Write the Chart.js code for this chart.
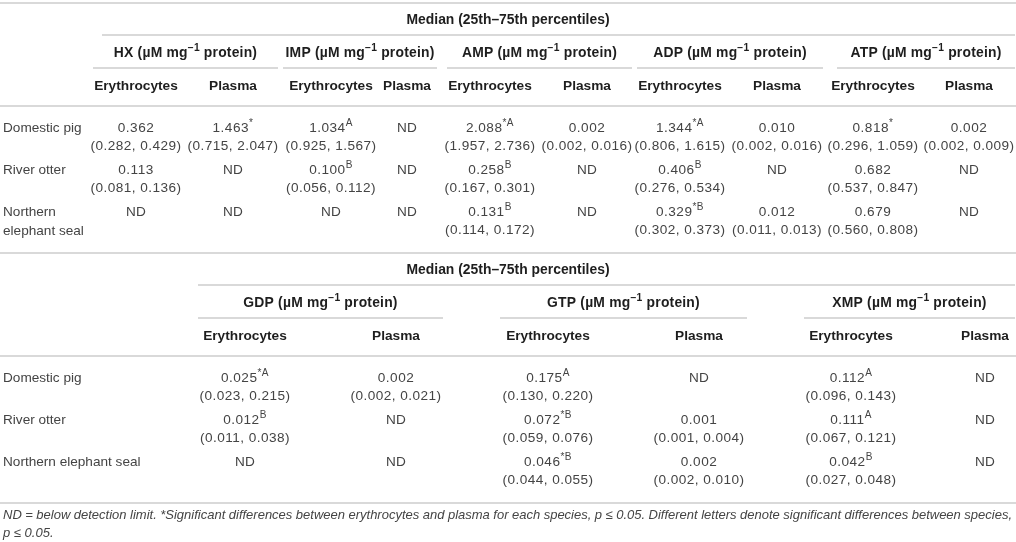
<!DOCTYPE html>
<html>
<head>
<meta charset="utf-8">
<script src="https://cdn.jsdelivr.net/npm/chart.js@4.4.1/dist/chart.umd.min.js"></script>
<style>
  html, body { margin: 0; padding: 0; background: #fff; }
  #wrap { width: 1016px; height: 542px; position: relative; }
</style>
</head>
<body>
<div id="wrap"><canvas id="table-chart"></canvas></div>
<script>
// table data: [median, 25th, 75th, marks] per species, null = ND
const species = ["Domestic pig", "River otter", "Northern elephant seal"];
const fractions = ["Erythrocytes", "Plasma"];
const spanTitle = "Median (25th\u201375th percentiles)";
const unitText = " (\u00b5M mg";
const footnote1 = "ND = below detection limit. *Significant differences between erythrocytes and plasma for each species, p \u2264 0.05. Different letters denote significant differences between species,";
const footnote2 = "p \u2264 0.05.";

const topCompounds = ["HX", "IMP", "AMP", "ADP", "ATP"];
const bottomCompounds = ["GDP", "GTP", "XMP"];

const hxEry    = [[0.362, 0.282, 0.429, ""], [0.113, 0.081, 0.136, ""], null];
const hxPla    = [[1.463, 0.715, 2.047, "*"], null, null];
const impEry   = [[1.034, 0.925, 1.567, "A"], [0.100, 0.056, 0.112, "B"], null];
const impPla   = [null, null, null];
const ampEry   = [[2.088, 1.957, 2.736, "*A"], [0.258, 0.167, 0.301, "B"], [0.131, 0.114, 0.172, "B"]];
const ampPla   = [[0.002, 0.002, 0.016, ""], null, null];
const adpEry   = [[1.344, 0.806, 1.615, "*A"], [0.406, 0.276, 0.534, "B"], [0.329, 0.302, 0.373, "*B"]];
const adpPla   = [[0.010, 0.002, 0.016, ""], null, [0.012, 0.011, 0.013, ""]];
const atpEry   = [[0.818, 0.296, 1.059, "*"], [0.682, 0.537, 0.847, ""], [0.679, 0.560, 0.808, ""]];
const atpPla   = [[0.002, 0.002, 0.009, ""], null, null];
const gdpEry   = [[0.025, 0.023, 0.215, "*A"], [0.012, 0.011, 0.038, "B"], null];
const gdpPla   = [[0.002, 0.002, 0.021, ""], null, null];
const gtpEry   = [[0.175, 0.130, 0.220, "A"], [0.072, 0.059, 0.076, "*B"], [0.046, 0.044, 0.055, "*B"]];
const gtpPla   = [null, [0.001, 0.001, 0.004, ""], [0.002, 0.002, 0.010, ""]];
const xmpEry   = [[0.112, 0.096, 0.143, "A"], [0.111, 0.067, 0.121, "A"], [0.042, 0.027, 0.048, "B"]];
const xmpPla   = [null, null, null];

const topCells = [[hxEry, hxPla], [impEry, impPla], [ampEry, ampPla], [adpEry, adpPla], [atpEry, atpPla]];
const bottomCells = [[gdpEry, gdpPla], [gtpEry, gtpPla], [xmpEry, xmpPla]];

// layout (axis units)
const layout = {
  top: {
    y0: 0, wrapLabels: true, topRule: true,
    groups: [[93, 278], [283, 437], [447, 632], [637, 823], [837, 1015]],
    cols: [[136, 233], [331, 407], [490, 587], [680, 777], [873, 969]]
  },
  bottom: {
    y0: 250, wrapLabels: false, topRule: false,
    groups: [[198, 443], [500, 747], [804, 1015]],
    cols: [[245, 396], [548, 699], [851, 985]]
  },
  spanStart: { top: 102, bottom: 198 }
};

const FONT = '"Liberation Sans", Arial, sans-serif';
const TXT = "#444444", HEAD = "#1e1e1e", RULE = "#cdcdcd";

function drawParts(ctx, px, py, parts, size, weight, color, align, spacing) {
  // parts: [{t, sup}]
  const fontOf = p => weight + " " + (p.sup ? size * 0.74 : size) + "px " + FONT;
  ctx.letterSpacing = (spacing || 0) + "px";
  let w = 0;
  parts.forEach(p => { ctx.font = fontOf(p); w += ctx.measureText(p.t).width; });
  let x = align === "left" ? px : px - w / 2;
  ctx.fillStyle = color;
  ctx.textBaseline = "middle";
  ctx.textAlign = "left";
  parts.forEach(p => {
    ctx.font = fontOf(p);
    ctx.fillText(p.t, x, p.sup ? py - size * 0.36 : py);
    x += ctx.measureText(p.t).width;
  });
  ctx.letterSpacing = "0px";
}

const tablePlugin = {
  id: "tablePlugin",
  afterDraw(chart) {
    const ctx = chart.ctx, sx = chart.scales.x, sy = chart.scales.y;
    const X = v => sx.getPixelForValue(v), Y = v => sy.getPixelForValue(v);
    ctx.save();

    const hline = (x1, x2, y) => {
      ctx.strokeStyle = RULE; ctx.lineWidth = 1.6;
      ctx.beginPath(); ctx.moveTo(X(x1), Y(y)); ctx.lineTo(X(x2), Y(y)); ctx.stroke();
    };

    const drawTable = (compounds, cells, lay, spanX) => {
      const o = lay.y0;
      if (lay.topRule) hline(0, 1016, o + 3);
      drawParts(ctx, X(508), Y(o + 20), [{ t: spanTitle }], 13.9, "bold", HEAD);
      hline(spanX, 1015, o + 35);
      compounds.forEach((c, i) => {
        const g = lay.groups[i];
        drawParts(ctx, X((g[0] + g[1]) / 2), Y(o + 53),
          [{ t: c + unitText }, { t: "\u22121", sup: true }, { t: " protein)" }], 13.9, "bold", HEAD, "center", 0.2);
        hline(g[0], g[1], o + 68);
        fractions.forEach((f, j) => {
          drawParts(ctx, X(lay.cols[i][j]), Y(o + 86), [{ t: f }], 13.7, "bold", HEAD);
        });
      });
      hline(0, 1016, o + 106);

      species.forEach((s, r) => {
        const yr = o + 128 + r * 42;
        ctx.font = "normal 13.6px " + FONT;
        if (lay.wrapLabels && ctx.measureText(s).width > 88) {
          const k = s.indexOf(" ");
          drawParts(ctx, X(3), Y(yr), [{ t: s.slice(0, k) }], 13.6, "normal", TXT, "left");
          drawParts(ctx, X(3), Y(yr + 19), [{ t: s.slice(k + 1) }], 13.6, "normal", TXT, "left");
        } else {
          drawParts(ctx, X(3), Y(yr), [{ t: s }], 13.6, "normal", TXT, "left");
        }
        cells.forEach((pair, i) => {
          pair.forEach((arr, j) => {
            const cx = X(lay.cols[i][j]);
            const v = arr[r];
            if (!v) {
              drawParts(ctx, cx, Y(yr), [{ t: "ND" }], 13.6, "normal", TXT, "center", 0.3);
              return;
            }
            const parts = [{ t: v[0].toFixed(3) }];
            if (v[3]) parts.push({ t: v[3], sup: true });
            drawParts(ctx, cx, Y(yr), parts, 13.6, "normal", TXT, "center", 0.5);
            drawParts(ctx, cx, Y(yr + 18.5), [{ t: "(" + v[1].toFixed(3) + ", " + v[2].toFixed(3) + ")" }], 13.6, "normal", TXT, "center", 0.45);
          });
        });
      });
      hline(0, 1016, o + 253);
    };

    drawTable(topCompounds, topCells, layout.top, layout.spanStart.top);
    drawTable(bottomCompounds, bottomCells, layout.bottom, layout.spanStart.bottom);

    // footnote, first line justified (shrink font until it fits)
    const words = footnote1.split(" ");
    const avail = X(1012) - X(3);
    let fs = 13.6, total = 0;
    do {
      fs -= 0.1;
      ctx.font = "italic " + fs.toFixed(1) + "px " + FONT;
      total = words.reduce((a, w) => a + ctx.measureText(w).width, 0);
    } while (total + 3.4 * (words.length - 1) > avail && fs > 9);
    ctx.fillStyle = TXT; ctx.textBaseline = "middle"; ctx.textAlign = "left";
    const gap = (avail - total) / (words.length - 1);
    let fx = X(3);
    words.forEach(w => { ctx.fillText(w, fx, Y(515)); fx += ctx.measureText(w).width + gap; });
    ctx.fillText(footnote2, X(3), Y(533));
    ctx.restore();
  }
};

new Chart(document.getElementById("table-chart"), {
  type: "scatter",
  data: { datasets: [] },
  options: {
    responsive: true,
    maintainAspectRatio: false,
    animation: false,
    layout: { padding: 0 },
    plugins: { legend: { display: false }, tooltip: { enabled: false } },
    scales: {
      x: { type: "linear", min: 0, max: 1016, display: false },
      y: { type: "linear", min: 0, max: 542, reverse: true, display: false }
    }
  },
  plugins: [tablePlugin]
});
</script>
</body>
</html>
